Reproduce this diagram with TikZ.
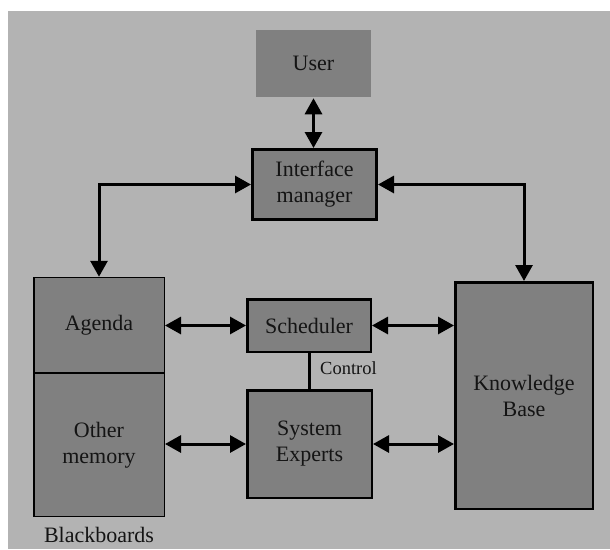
\documentclass[tikz,border=0pt]{standalone}
\usepackage{fontspec}
\setmainfont{Liberation Serif}
\usetikzlibrary{arrows.meta}
\definecolor{bggray}{HTML}{B3B3B3}
\definecolor{boxgray}{HTML}{808080}
\definecolor{txt}{HTML}{141414}
\begin{document}
\begin{tikzpicture}[x=1pt,y=-1pt,
  box/.style={draw=black, fill=boxgray, line width=2.5pt, inner sep=0pt, align=center,
    font=\fontsize{22}{26}\selectfont, text=txt},
  thinbox/.style={box, line width=1.5pt},
  lbl/.style={inner sep=0pt, font=\fontsize{22}{26}\selectfont, text=txt},
  tip/.style={Triangle[length=16pt,width=17pt]},
  arr/.style={line width=3pt, line join=miter, {Triangle[length=16pt,width=17pt]}-{Triangle[length=16pt,width=17pt]}}]
\useasboundingbox (0,0) rectangle (610,549);
\fill[white] (0,0) rectangle (610,549);
\fill[bggray] (8,11) rectangle (610,549);
\node[box, draw=none, minimum width=115pt, minimum height=67pt] (user) at (313.5,63.5) {User};
\node[box, line width=3pt, minimum width=124pt, minimum height=70pt] (im) at (314.5,184.5) {Interface\\manager};
\node[thinbox, minimum width=130.5pt, minimum height=95pt] (agenda) at (99,325) {Agenda};
\node[thinbox, minimum width=130.5pt, minimum height=143pt] (om) at (99,445) {Other\\memory};
\node[lbl] (bb) at (99,535) {Blackboards};
\node[box, minimum width=123.5pt, minimum height=52.5pt] (sch) at (309,325.5) {Scheduler};
\node[box, minimum width=124.5pt, minimum height=107.5pt] (se) at (309.5,444) {System\\Experts};
\node[box, minimum width=137.5pt, minimum height=226.5pt] (kb) at (524,395.5) {Knowledge\\Base};
\node[inner sep=0pt, anchor=west, font=\fontsize{18.5}{22}\selectfont, text=txt] (ctl) at (320,368) {Control};
\draw[line width=3pt] (sch.south) -- (sch.south |- se.north);
\draw[arr] (user.south) -- (user.south |- im.north);
\draw[arr] (agenda.north) |- (im.west);
\draw[arr] (im.east) -| (kb.north);
\draw[arr] (sch.west -| agenda.east) -- (sch.west);
\draw[arr] (sch.east) -- (sch.east -| kb.west);
\draw[arr] (se.west -| om.east) -- (se.west);
\draw[arr] (se.east) -- (se.east -| kb.west);
\end{tikzpicture}
\end{document}
